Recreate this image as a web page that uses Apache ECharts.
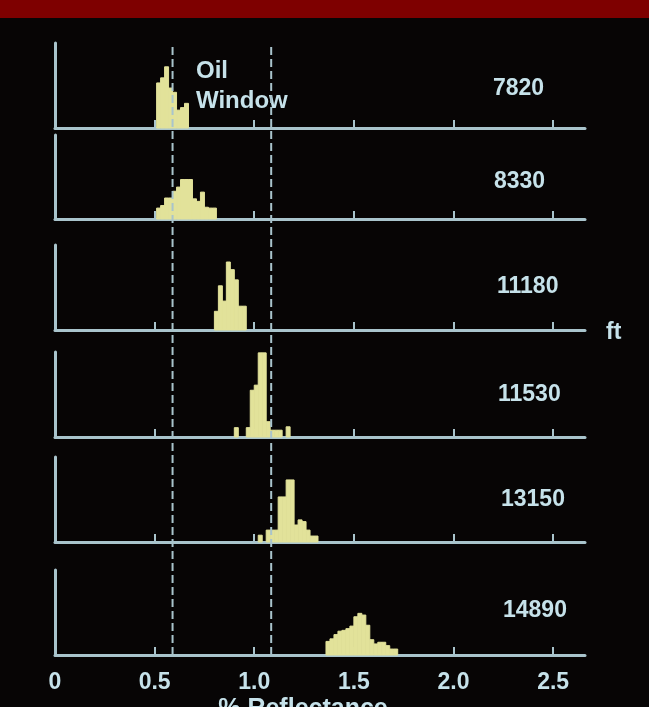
<!DOCTYPE html>
<html>
<head>
<meta charset="utf-8">
<script src="https://cdn.jsdelivr.net/npm/echarts@6/dist/echarts.min.js"></script>
<style>
  html, body { margin: 0; padding: 0; background: #070505; }
  #chart { width: 649px; height: 707px; }
</style>
</head>
<body>
<div id="chart"></div>
<script>
// Vitrinite reflectance histograms for six well depths (ft)
const depthLabels = ['7820', '8330', '11180', '11530', '13150', '14890'];
const binWidth = 0.02;
const binStarts = [0.51, 0.51, 0.80, 0.90, 1.02, 1.36];

const counts7820  = [5.3, 5.9, 7.2, 4.7, 4.2, 2.1, 2.4, 2.9];
const counts8330  = [1.3, 1.6, 2.5, 2.5, 3.3, 3.8, 4.7, 4.7, 4.7, 2.4, 2.1, 3.2, 1.4, 1.3, 1.3];
const counts11180 = [2.2, 5.2, 3.4, 8.0, 7.1, 5.9, 2.8, 2.8];
const counts11530 = [1.1, 0, 0, 1.1, 5.5, 6.1, 9.9, 9.9, 1.8, 0.8, 0.8, 0.8, 0, 1.2];
const counts13150 = [0.8, 0, 1.4, 1.4, 1.4, 5.3, 5.3, 7.3, 7.3, 2.0, 2.6, 2.4, 1.4, 0.7, 0.7];
const counts14890 = [1.6, 1.9, 2.4, 2.8, 2.9, 3.1, 3.4, 4.5, 4.9, 4.7, 3.5, 1.8, 1.3, 1.5, 1.5, 1.1, 0.7, 0.7];

const allCounts = [counts7820, counts8330, counts11180, counts11530, counts13150, counts14890];

// Oil window limits (% Ro)
const oilWindow = [0.59, 1.085];

const tickValues = [0.5, 1.0, 1.5, 2.0, 2.5];
const tickLabels = [0, 0.5, 1.0, 1.5, 2.0, 2.5];

const xMax = 2.66;
const yMax = 10;

const barColor = '#e2e29a';
const lineColor = '#a9c4cc';
const textColor = '#c6e2ea';
const fontFamily = '"Liberation Sans", Arial, Helvetica, sans-serif';

// panel layout: top edge and height of each plot strip
const panelBoxes = [
  { top: 43,  height: 85 },
  { top: 135, height: 84 },
  { top: 245, height: 85 },
  { top: 352, height: 85 },
  { top: 457, height: 85 },
  { top: 570, height: 85 }
];
const plotLeft = 55;
const plotWidth = 530;

function renderBin(params, api) {
  const h = api.value(2);
  if (!h) return null;
  const p0 = api.coord([api.value(0), 0]);
  const p1 = api.coord([api.value(1), h]);
  return {
    type: 'rect',
    shape: { x: p0[0], y: p1[1], width: p1[0] - p0[0], height: p0[1] - p1[1] },
    style: { fill: barColor, stroke: barColor, lineWidth: 1 }
  };
}

function renderDashed(params, api) {
  const a = api.coord([api.value(0), 0]);
  const b = api.coord([api.value(0), 1]);
  return {
    type: 'line',
    shape: { x1: a[0], y1: a[1], x2: b[0], y2: b[1] },
    style: { stroke: lineColor, lineWidth: 2, lineDash: [8, 4] }
  };
}

const grids = [];
const xAxes = [];
const yAxes = [];
const series = [];

allCounts.forEach((counts, i) => {
  const box = panelBoxes[i];
  const last = i === allCounts.length - 1;
  grids.push({ left: plotLeft, width: plotWidth, top: box.top, height: box.height });
  xAxes.push({
    type: 'value', gridIndex: i, min: 0, max: xMax,
    axisLine: { show: true, lineStyle: { color: lineColor, width: 3 } },
    axisTick: { show: true, inside: true, length: 8, customValues: tickValues,
                lineStyle: { color: lineColor, width: 2 } },
    axisLabel: last ? {
      show: true, customValues: tickLabels, margin: 16,
      color: textColor, fontSize: 23, fontWeight: 'bold', fontFamily: fontFamily,
      formatter: v => (v === 0 ? '0' : v.toFixed(1))
    } : { show: false },
    splitLine: { show: false }
  });
  yAxes.push({
    type: 'value', gridIndex: i, min: 0, max: yMax,
    axisLine: { show: true, lineStyle: { color: lineColor, width: 3 } },
    axisTick: { show: false }, axisLabel: { show: false }, splitLine: { show: false }
  });
  const start = binStarts[i];
  const data = counts.map((c, k) => [start + k * binWidth, start + (k + 1) * binWidth, c]);
  series.push({
    type: 'custom', name: depthLabels[i], xAxisIndex: i, yAxisIndex: i,
    renderItem: renderBin, data: data, silent: true, z: 2
  });
});

// overlay strip carrying the oil-window boundaries across all panels
const ov = allCounts.length;
grids.push({ left: plotLeft, width: plotWidth, top: 43, height: 612 });
xAxes.push({ type: 'value', gridIndex: ov, min: 0, max: xMax, show: false });
yAxes.push({ type: 'value', gridIndex: ov, min: 0, max: 1, show: false });
series.push({
  type: 'custom', xAxisIndex: ov, yAxisIndex: ov, z: 5, silent: true,
  renderItem: renderDashed, data: oilWindow.map(v => [v])
});

// depth labels on the right
const labelPos = [
  [493, 89], [494, 182], [497, 287], [498, 395], [501, 500], [503, 611]
];
const textStyle = (txt, x, y, align, vAlign, size) => ({
  type: 'text', x: x, y: y, silent: true,
  style: {
    text: txt, fill: textColor, font: 'bold ' + size + 'px ' + fontFamily,
    textAlign: align, textVerticalAlign: vAlign
  }
});
const graphics = [
  { type: 'rect', shape: { x: 0, y: 0, width: 649, height: 18 }, style: { fill: '#7e0000' }, silent: true }
];
depthLabels.forEach((d, i) => {
  graphics.push(textStyle(d, labelPos[i][0], labelPos[i][1], 'left', 'middle', 23));
});
graphics.push(textStyle('ft', 606, 333, 'left', 'middle', 23));
graphics.push(textStyle('Oil', 196, 71, 'left', 'middle', 24));
graphics.push(textStyle('Window', 196, 101, 'left', 'middle', 24));
graphics.push(textStyle('% Reflectance', 303, 697, 'center', 'top', 25));

const chart = echarts.init(document.getElementById('chart'), null, { renderer: 'canvas' });
chart.setOption({
  backgroundColor: '#070505',
  animation: false,
  grid: grids,
  xAxis: xAxes,
  yAxis: yAxes,
  series: series,
  graphic: graphics
});
</script>
</body>
</html>
